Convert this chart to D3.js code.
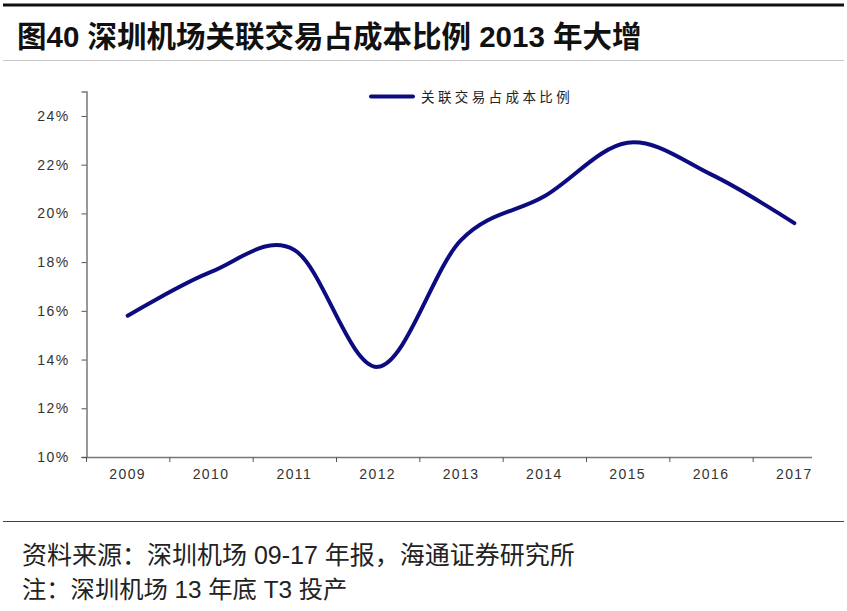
<!DOCTYPE html>
<html><head><meta charset="utf-8">
<script src="https://cdn.jsdelivr.net/npm/d3@7"></script>
<style>body{margin:0;background:#fff}svg{display:block}</style>
</head><body>
<svg id="c" width="847" height="611"></svg>
<script>
const categories = ["2009","2010","2011","2012","2013","2014","2015","2016","2017"];
const ratioValues = [0.158, 0.176, 0.185, 0.137, 0.189, 0.207, 0.229, 0.216, 0.196];
const yTicks = [0.10, 0.12, 0.14, 0.16, 0.18, 0.20, 0.22, 0.24];
const seriesName = "关联交易占成本比例";
const titleText = "图40 深圳机场关联交易占成本比例 2013 年大增";
const sourceText = "资料来源：深圳机场 09-17 年报，海通证券研究所";
const noteText = "注：深圳机场 13 年底 T3 投产";

const svg = d3.select("#c");
const cjk = "'Liberation Sans', Arial, 'Noto Sans CJK SC', sans-serif";
const latin = "'Liberation Sans', Arial, sans-serif";

// frame lines
svg.append("rect").attr("x",3).attr("y",3.5).attr("width",841).attr("height",3).attr("fill","#111");
svg.append("line").attr("x1",3).attr("x2",844).attr("y1",60.5).attr("y2",60.5).attr("stroke","#c8c8c8").attr("stroke-width",1);
svg.append("line").attr("x1",3).attr("x2",844).attr("y1",521.5).attr("y2",521.5).attr("stroke","#444").attr("stroke-width",1.2);

svg.append("text").attr("x",17).attr("y",47).attr("font-family",cjk).attr("font-weight","bold")
  .attr("font-size",29.5).attr("fill","#111").text(titleText);

svg.append("text").attr("x",22).attr("y",564).attr("font-family",cjk).attr("font-size",25).attr("fill","#222").text(sourceText);
svg.append("text").attr("x",22).attr("y",598).attr("font-family",cjk).attr("font-size",24.3).attr("fill","#222").text(noteText);

const x = d3.scaleBand().domain(categories).range([86, 836]).paddingInner(0).paddingOuter(0);
const y = d3.scaleLinear().domain([0.10, 0.25]).range([457, 91.6]);

// y axis
const yAxis = d3.axisLeft(y).tickValues(yTicks).tickFormat(d3.format(".0%")).tickSizeOuter(0).tickSize(5).tickPadding(12);
const gy = svg.append("g").attr("transform","translate(86.5,0)").call(yAxis);
gy.select(".domain").attr("stroke","#777").attr("stroke-width",1.5);
gy.selectAll(".tick line").attr("stroke","#555");
gy.selectAll(".tick text").attr("font-family",latin).attr("font-size",14).attr("letter-spacing",1.4).attr("fill","#333");

// x axis
const clip = svg.append("defs").append("clipPath").attr("id","xclip");
clip.append("rect").attr("x",0).attr("y",0).attr("width",847).attr("height",22.5);
const xAxis = d3.axisBottom(x).tickSize(0).tickPadding(12.5);
const gx = svg.append("g").attr("transform","translate(0,457)").attr("clip-path","url(#xclip)").call(xAxis);
gx.select(".domain").remove();
gx.selectAll(".tick text").attr("font-family",latin).attr("font-size",14).attr("letter-spacing",1.4).attr("fill","#333");
svg.append("line").attr("x1",86).attr("x2",812).attr("y1",457.5).attr("y2",457.5).attr("stroke","#777").attr("stroke-width",1.5);
svg.append("g").selectAll("line").data(categories).join("line")
  .attr("x1",d=>x(d)+0.5).attr("x2",d=>x(d)+0.5).attr("y1",457).attr("y2",462)
  .attr("stroke","#555").attr("stroke-width",1);

// line
const line = d3.line().x((d,i)=>x(categories[i])+x.bandwidth()/2).y(d=>y(d)).curve(d3.curveCardinal.tension(0));
svg.append("path").datum(ratioValues).attr("d",line).attr("fill","none").attr("stroke","#0c0c80")
  .attr("stroke-width",4).attr("stroke-linecap","round").attr("stroke-linejoin","round");

// legend
svg.append("line").attr("x1",371).attr("x2",413).attr("y1",96.5).attr("y2",96.5).attr("stroke","#0c0c80").attr("stroke-width",4).attr("stroke-linecap","round");
svg.append("text").attr("x",421).attr("y",101.5).attr("font-family","'Noto Sans CJK SC', sans-serif").attr("font-size",13.5).attr("letter-spacing",3.4).attr("fill","#222").text(seriesName);
</script>
</body></html>
